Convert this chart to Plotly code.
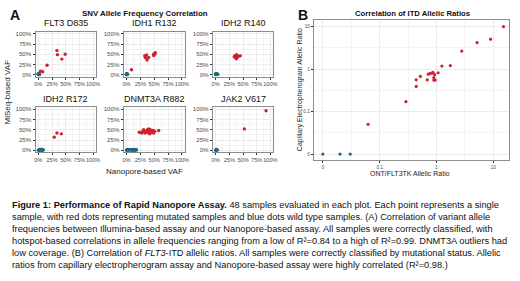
import numpy as np
import plotly.graph_objects as go

W, H = 520, 281
FONT = "Liberation Sans, Arial, sans-serif"
RED = "#D0202E"
BLUE = "#1B6A86"

# ---------------- Panel A data (VAF, fraction) ----------------
panel_titles = ["FLT3 D835", "IDH1 R132", "IDH2 R140", "IDH2 R172", "DNMT3A R882", "JAK2 V617"]
vaf_ticks = [0, 0.25, 0.5, 0.75, 1.0]
vaf_tick_labels = ["0%", "25%", "50%", "75%", "100%"]

flt3_mut_x = [0.04, 0.08, 0.16, 0.34, 0.35, 0.43, 0.49]
flt3_mut_y = [0.08, 0.07, 0.23, 0.59, 0.49, 0.38, 0.50]
flt3_wt_x = [0.00, 0.01, 0.00, 0.02, 0.01, 0.00, 0.01, 0.02, 0.00, 0.01]
flt3_wt_y = [0.00, 0.00, 0.01, 0.01, 0.02, 0.00, 0.01, 0.00, 0.02, 0.00]

idh1_mut_x = [0.09, 0.33, 0.36, 0.37, 0.40, 0.49, 0.52, 0.49, 0.34, 0.51]
idh1_mut_y = [0.12, 0.46, 0.48, 0.36, 0.42, 0.50, 0.54, 0.47, 0.42, 0.50]
idh1_wt_x = [0.00, 0.01, 0.00, 0.02, 0.01, 0.00, 0.01, 0.00]
idh1_wt_y = [0.00, 0.00, 0.01, 0.01, 0.02, 0.01, 0.01, 0.02]

idh2a_mut_x = [0.35, 0.38, 0.40, 0.36, 0.39, 0.42, 0.45, 0.38, 0.34, 0.37]
idh2a_mut_y = [0.46, 0.49, 0.46, 0.42, 0.42, 0.45, 0.46, 0.39, 0.44, 0.44]
idh2a_wt_x = [0.00, 0.01, 0.02, 0.03, 0.01, 0.00, 0.02, 0.04, 0.01]
idh2a_wt_y = [0.00, 0.01, 0.00, 0.01, 0.02, 0.02, 0.02, 0.01, 0.00]

idh2b_mut_x = [0.29, 0.34, 0.42]
idh2b_mut_y = [0.32, 0.42, 0.40]
idh2b_wt_x = [0.00, 0.01, 0.02, 0.03, 0.04, 0.05, 0.06, 0.07, 0.08, 0.09, 0.02, 0.05, 0.07]
idh2b_wt_y = [0.00, 0.01, 0.00, 0.02, 0.01, 0.00, 0.02, 0.01, 0.00, 0.01, 0.02, 0.02, 0.02]

dnmt_mut_x = [0.23, 0.29, 0.31, 0.35, 0.38, 0.40, 0.43, 0.45, 0.48, 0.49,
              0.40, 0.42, 0.36, 0.33, 0.51, 0.58, 0.27, 0.40, 0.46]
dnmt_mut_y = [0.44, 0.46, 0.50, 0.44, 0.50, 0.46, 0.50, 0.44, 0.48, 0.42,
              0.42, 0.40, 0.47, 0.42, 0.46, 0.48, 0.42, 0.52, 0.47]
dnmt_wt_x = [0.00, 0.02, 0.04, 0.06, 0.08, 0.10, 0.12, 0.14, 0.16, 0.18,
             0.01, 0.05, 0.09, 0.13, 0.17, 0.03, 0.11, 0.15]
dnmt_wt_y = [0.00, 0.01, 0.00, 0.02, 0.01, 0.00, 0.02, 0.01, 0.00, 0.01,
             0.02, 0.02, 0.01, 0.00, 0.02, 0.01, 0.01, 0.02]

jak2_mut_x = [0.525, 0.92]
jak2_mut_y = [0.52, 0.96]
jak2_wt_x = [0.00, 0.01, 0.02, 0.03, 0.01, 0.02]
jak2_wt_y = [0.00, 0.01, 0.00, 0.01, 0.02, 0.02]

# ---------------- Panel B data (allelic ratios) ----------------
itd_mut_ont = [15.2, 9.0, 5.2, 2.8, 1.76, 1.25, 1.07, 0.95, 0.90, 0.90, 0.93,
               0.87, 0.83, 0.77, 0.72, 0.69, 0.52, 0.44, 0.44, 0.29, 0.061]
itd_mut_ce = [10.0, 5.07, 4.2, 2.65, 1.21, 1.18, 0.82, 0.55, 0.55, 0.63, 0.74,
              0.84, 0.80, 0.78, 0.76, 0.56, 0.67, 0.56, 0.39, 0.17, 0.048]
itd_wt_ont = [0.0, 0.015, 0.027]
itd_wt_ce = [0.0, 0.0, 0.0]
ratio_ticks = [0, 0.1, 1, 10]
ratio_tick_labels = ["0", "0.1", "1", "10"]


def pseudo_log(v, sigma=0.01):
    return np.arcsinh(np.asarray(v, dtype=float) / (2 * sigma)) / np.log(10)


def px(x):
    return x / W


def py(y):
    return 1 - y / H


fig = go.Figure()

panels = [
    (flt3_mut_x, flt3_mut_y, flt3_wt_x, flt3_wt_y),
    (idh1_mut_x, idh1_mut_y, idh1_wt_x, idh1_wt_y),
    (idh2a_mut_x, idh2a_mut_y, idh2a_wt_x, idh2a_wt_y),
    (idh2b_mut_x, idh2b_mut_y, idh2b_wt_x, idh2b_wt_y),
    (dnmt_mut_x, dnmt_mut_y, dnmt_wt_x, dnmt_wt_y),
    (jak2_mut_x, jak2_mut_y, jak2_wt_x, jak2_wt_y),
]

col_px = [(34.9, 95.8), (123.9, 185.5), (213.9, 274.8)]
row_px = [(30.2, 75.4), (106.2, 152.0)]
title_y = [21.7, 97.7]

axis_common = dict(
    ticks="outside", ticklen=2, tickwidth=0.6, tickcolor="#333333",
    showgrid=True, gridcolor="#EBEBEB", gridwidth=0.7,
    showline=True, mirror=True, linecolor="#8C8C8C", linewidth=1,
    zeroline=False, fixedrange=True, tickangle=0,
)

layout_axes = {}
annotations = []
for i, (mx, my, wx, wy) in enumerate(panels):
    r, c = divmod(i, 3)
    k = i + 1
    xa = "x" if k == 1 else f"x{k}"
    ya = "y" if k == 1 else f"y{k}"
    fig.add_trace(go.Scatter(x=wx, y=wy, mode="markers", xaxis=xa, yaxis=ya,
                             marker=dict(color=BLUE, size=3.4), showlegend=False))
    fig.add_trace(go.Scatter(x=mx, y=my, mode="markers", xaxis=xa, yaxis=ya,
                             marker=dict(color=RED, size=3.4), showlegend=False))
    x0, x1 = col_px[c]
    y0, y1 = row_px[r]
    ax = dict(axis_common, range=[-0.05, 1.05], tickvals=vaf_ticks, ticktext=vaf_tick_labels,
              tickfont=dict(family=FONT, size=5.6, color="#4D4D4D"),
              minor=dict(tickvals=[0.125, 0.375, 0.625, 0.875], showgrid=True,
                         gridcolor="#F4F4F4", gridwidth=0.4, ticks=""))
    layout_axes["xaxis" if k == 1 else f"xaxis{k}"] = dict(
        ax, domain=[px(x0), px(x1)], anchor=ya)
    layout_axes["yaxis" if k == 1 else f"yaxis{k}"] = dict(
        ax, domain=[py(y1), py(y0)], anchor=xa,
        tickfont=dict(family=FONT, size=6.2, color="#4D4D4D"))
    annotations.append(dict(text=panel_titles[i], x=px((x0 + x1) / 2), y=py(title_y[r]),
                            xref="paper", yref="paper", showarrow=False,
                            xanchor="center", yanchor="middle",
                            font=dict(family=FONT, size=9, color="#111111")))

# Panel B
fig.add_trace(go.Scatter(x=pseudo_log(itd_wt_ont), y=pseudo_log(itd_wt_ce), mode="markers",
                         xaxis="x7", yaxis="y7", marker=dict(color=BLUE, size=3.2),
                         showlegend=False))
fig.add_trace(go.Scatter(x=pseudo_log(itd_mut_ont), y=pseudo_log(itd_mut_ce), mode="markers",
                         xaxis="x7", yaxis="y7", marker=dict(color=RED, size=3.2),
                         showlegend=False))
bt = pseudo_log(ratio_ticks).tolist()
bminor = [(bt[j] + bt[j + 1]) / 2 for j in range(3)]
bax = dict(axis_common, tickvals=bt, ticktext=ratio_tick_labels,
           tickfont=dict(family=FONT, size=4.8, color="#4D4D4D"),
           minor=dict(tickvals=bminor, showgrid=True, gridcolor="#F4F4F4",
                      gridwidth=0.4, ticks=""))
layout_axes["xaxis7"] = dict(bax, domain=[px(316), px(513)], range=[-0.157, 3.28], anchor="y7")
layout_axes["yaxis7"] = dict(bax, domain=[py(160), py(18)], range=[-0.147, 3.16], anchor="x7")


def ann(text, x, y, size, bold=False, angle=0, color="#111111", xanchor="center"):
    annotations.append(dict(text=f"<b>{text}</b>" if bold else text, x=px(x), y=py(y),
                            xref="paper", yref="paper", showarrow=False,
                            xanchor=xanchor, yanchor="middle", textangle=angle,
                            font=dict(family=FONT, size=size, color=color)))


ann("A", 14.2, 13.3, 14, bold=True)
ann("B", 304.5, 12.8, 14, bold=True)
ann("SNV Allele Frequency Correlation", 145.5, 11.7, 7.9, bold=True)
ann("Correlation of ITD Allelic Ratios", 415.8, 11.7, 7.7, bold=True)
ann("MiSeq-based VAF", 6.5, 91, 8, angle=-90, color="#222222")
ann("Nanopore-based VAF", 145, 171.7, 8, color="#222222")
ann("Capillary Electropherogram Allelic Ratio", 302, 89, 7, angle=-90, color="#222222")
ann("ONT/FLT3TK Allelic Ratio", 413, 173, 7, color="#222222")

caption_lines = [
    "<b>Figure 1: Performance of Rapid Nanopore Assay.</b> 48 samples evaluated in each plot. Each point represents a single",
    "sample, with red dots representing mutated samples and blue dots wild type samples. (A) Correlation of variant allele",
    "frequencies between Illumina-based assay and our Nanopore-based assay. All samples were correctly classified, with",
    "hotspot-based correlations in allele frequencies ranging from a low of R²=0.84 to a high of R²=0.99. DNMT3A outliers had",
    "low coverage. (B) Correlation of <i>FLT3</i>-ITD allelic ratios. All samples were correctly classified by mutational status. Allelic",
    "ratios from capillary electropherogram assay and Nanopore-based assay were highly correlated (R²=0.98.)",
]
for j, line in enumerate(caption_lines):
    ann(line, 9.5, 205.5 + 12 * j, 9.25, xanchor="left", color="#111111")

fig.update_layout(
    width=W, height=H, margin=dict(l=0, r=0, t=0, b=0),
    paper_bgcolor="white", plot_bgcolor="white",
    font=dict(family=FONT), annotations=annotations, showlegend=False,
    **layout_axes,
)

fig.write_html("out.html", config={"displayModeBar": False},
               post_script="document.body.style.margin='0px';document.body.style.padding='0px';")
